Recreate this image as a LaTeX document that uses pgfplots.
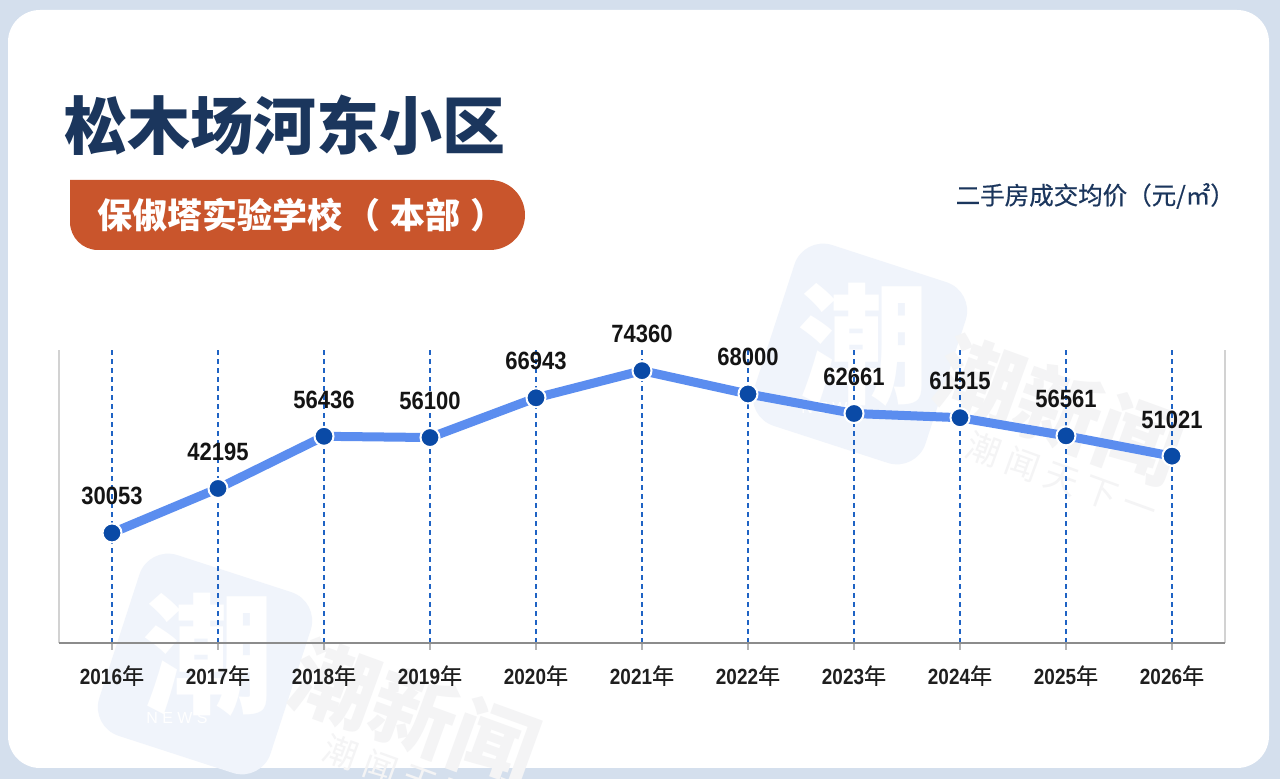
\documentclass[border=0pt]{standalone}
\usepackage{pgfplots}
\pgfplotsset{compat=1.18}
\usepackage{fontspec}
\setmainfont{Liberation Sans}
\newfontfamily\cjk{Noto Sans CJK SC}
\newfontfamily\cjkm[FakeBold=0.6]{Noto Sans CJK SC}
\newfontfamily\numf[FakeStretch=0.88]{Liberation Sans}
\newfontfamily\tickf[FakeStretch=0.86]{Liberation Sans}
\definecolor{frame}{HTML}{D4DFED}
\definecolor{navy}{HTML}{1B365D}
\definecolor{badge}{HTML}{C9552C}
\definecolor{lineblue}{HTML}{5B8DEF}
\definecolor{dotblue}{HTML}{0A4AA6}
\definecolor{gridblue}{HTML}{1F63C4}
\definecolor{wm}{HTML}{F0F4FB}
\definecolor{wmtext}{HTML}{F4F4F5}
\newcommand\yr[1]{{\tickf\bfseries #1}{\cjkm 年}}
\begin{document}
\begin{tikzpicture}[x=1pt,y=1pt]
\useasboundingbox (0,0) rectangle (1280,779);
\fill[frame] (0,0) rectangle (1280,779);
\fill[white, rounded corners=32pt] (8,11) rectangle (1269,769);
% watermarks
\begin{scope}[shift={(860,425)}, rotate=-18]
\fill[wm, rounded corners=30pt] (-90,-95) rectangle (90,95);
\node[white, font=\cjk\bfseries\fontsize{130}{130}\selectfont] at (0,10) {潮};
\node[white, font=\fontsize{16}{16}\selectfont] at (-10,-60) {N E W S};
\end{scope}
\node[wmtext, rotate=-20, font=\cjk\bfseries\fontsize{85}{85}\selectfont] at (1060,369) {潮新闻};
\node[wmtext, rotate=-20, font=\cjk\fontsize{34}{34}\selectfont] at (1062,301) {潮\ 闻\ 天\ 下\ 一};
\begin{scope}[shift={(205,115)}, rotate=-18]
\fill[wm, rounded corners=30pt] (-90,-95) rectangle (90,95);
\node[white, font=\cjk\bfseries\fontsize{130}{130}\selectfont] at (0,10) {潮};
\node[white, font=\fontsize{16}{16}\selectfont] at (-10,-60) {N E W S};
\end{scope}
\node[wmtext, rotate=-20, font=\cjk\bfseries\fontsize{85}{85}\selectfont] at (415,65) {潮新闻};
\node[wmtext, rotate=-20, font=\cjk\fontsize{34}{34}\selectfont] at (400,5) {潮\ 闻\ 天\ 下};
% title
\node[navy, anchor=west, font=\cjk\bfseries\fontsize{63}{63}\selectfont, inner sep=0pt] at (64,654) {松木场河东小区};
\fill[badge] (70,599) -- (490,599) arc[start angle=90, end angle=-90, radius=35] -- (98,529) arc[start angle=270, end angle=180, radius=28] -- cycle;
\node[white, font=\cjk\bfseries\fontsize{35}{35}\selectfont, inner sep=0pt, anchor=west] at (97,564) {保俶塔实验学校\hspace{3pt}（\hspace{10pt}本部\hspace{10pt}）};
\node[navy, anchor=east, font=\cjkm\fontsize{24.5}{24.5}\selectfont, inner sep=0pt] at (1235,583) {二手房成交均价（元/㎡）};
\begin{axis}[
  at={(59pt,136pt)}, anchor=south west,
  scale only axis, width=1166pt, height=293pt,
  xmin=-0.5, xmax=10.5, ymin=0, ymax=80000,
  axis line style={draw=none},
  ytick=\empty,
  xtick={0,...,10},
  xticklabels={\yr{2016},\yr{2017},\yr{2018},\yr{2019},\yr{2020},\yr{2021},\yr{2022},\yr{2023},\yr{2024},\yr{2025},\yr{2026}},
  xtick pos=left, tick align=outside, major tick length=7pt,
  xtick style={draw=gray!60, line width=1.2pt},
  xticklabel style={font=\fontsize{22}{22}\selectfont, text=black!88, yshift=-12pt},
  xmajorgrids,
  grid style={draw=gridblue, line width=2pt, dash pattern=on 5pt off 4pt},
  clip=false,
  nodes near coords,
  point meta=explicit symbolic,
  every node near coord/.append style={font=\numf\bfseries\fontsize{25}{25}\selectfont, text=black!92, anchor=base, yshift=28pt},
]
\draw[gray!35, line width=1.5pt] (rel axis cs:0,0) -- (rel axis cs:0,1);
\draw[gray!35, line width=1.5pt] (rel axis cs:1,0) -- (rel axis cs:1,1);
\draw[gray!90, line width=1.8pt] (rel axis cs:0,0) -- (rel axis cs:1,0);
\addplot[lineblue, line width=9pt, mark=*, mark size=9.5pt,
  mark options={fill=dotblue, draw=white, line width=2pt}]
coordinates {
(0,30053)[30053]
(1,42195)[42195]
(2,56436)[56436]
(3,56100)[56100]
(4,66943)[66943]
(5,74360)[74360]
(6,68000)[68000]
(7,62661)[62661]
(8,61515)[61515]
(9,56561)[56561]
(10,51021)[51021]
};
\end{axis}
\end{tikzpicture}
\end{document}
